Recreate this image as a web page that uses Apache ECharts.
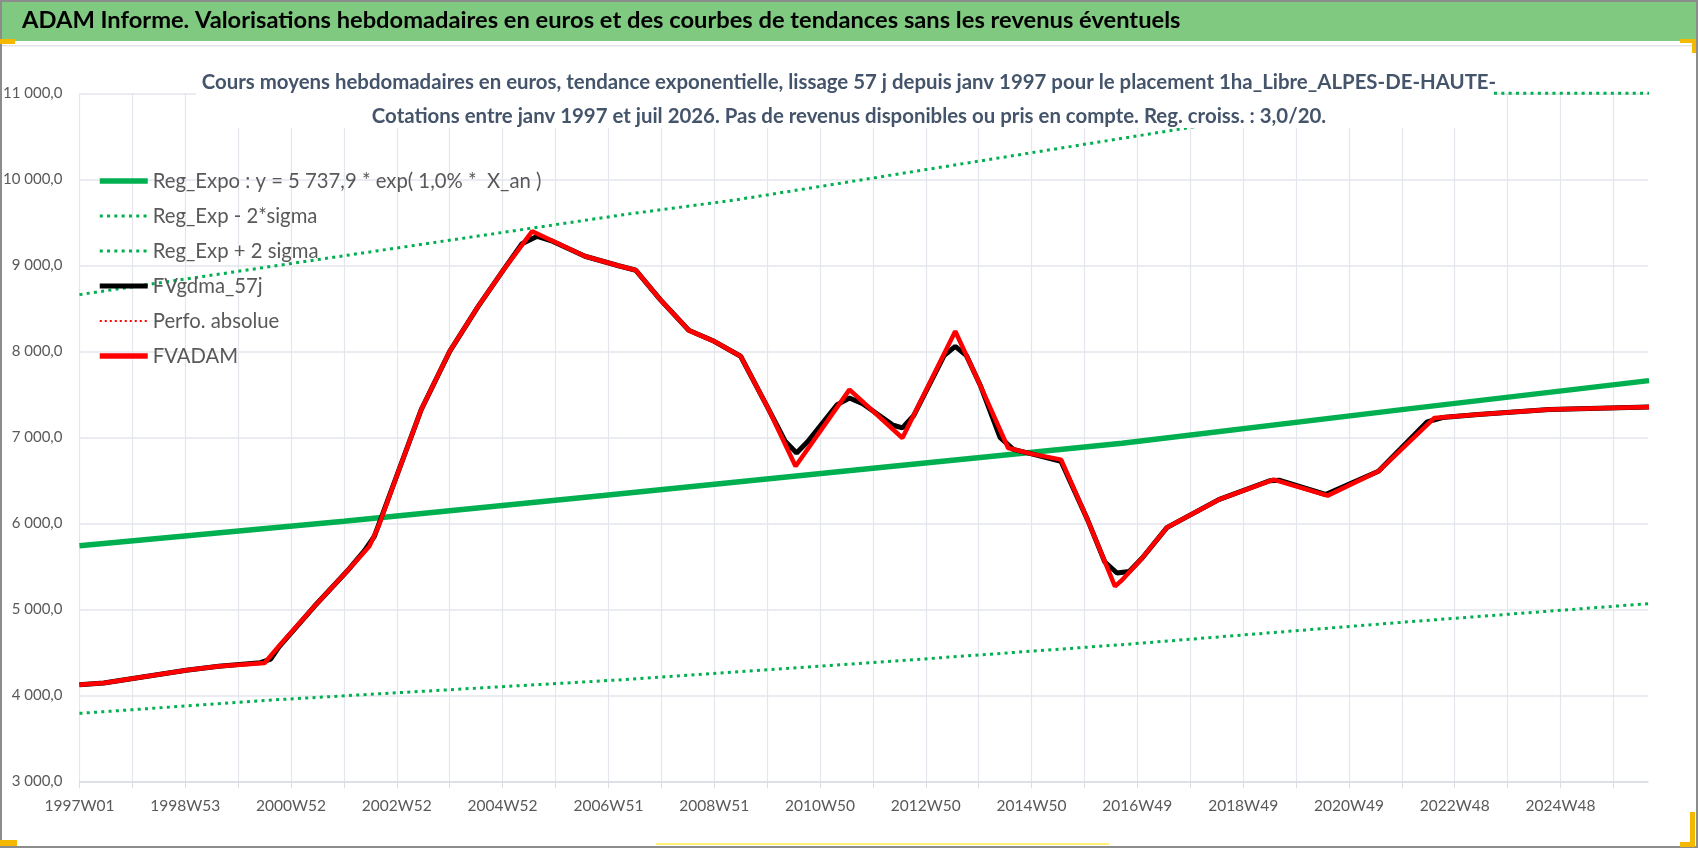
<!DOCTYPE html>
<html lang="fr">
<head>
    <meta charset="UTF-8">
    <title>ADAM Informe</title>
    <script src="https://cdn.jsdelivr.net/npm/echarts@6/dist/echarts.min.js"></script>
    <style>
        html, body { margin: 0; padding: 0; background: #fff; }
    </style>
</head>
<body>
<div id="chart" style="width:1698px;height:848px;"></div>
<script>
    // semaines ISO de 1997W01 a 2026W30 (annees a 53 semaines)
    var longYears = [1998, 2004, 2009, 2015, 2020, 2026];
    var weeks = [];
    for (var yr = 1997; yr <= 2026; yr++) {
        var n = longYears.indexOf(yr) >= 0 ? 53 : 52;
        for (var w = 1; w <= n; w++) {
            if (yr === 2026 && w > 30) break;
            weeks.push(yr + 'W' + (w < 10 ? '0' + w : w));
        }
    }

    var yTicks = { min: 3000, max: 11000, step: 1000 };

    // [indice semaine, valeur]
    var fvadam = [
        [0, 4124], [24, 4143], [105, 4291], [137, 4337], [182, 4376], [196, 4570],
        [231, 5035], [263, 5442], [285, 5733], [294, 5965], [313, 6585], [336, 7322],
        [364, 8000], [392, 8523], [417, 8950], [445, 9395], [497, 9105], [530, 8995],
        [547, 8942], [571, 8601], [599, 8244], [624, 8116], [650, 7942], [676, 7360],
        [704, 6663], [757, 7554], [809, 6992], [861, 8233], [886, 7593], [913, 6876],
        [935, 6810], [965, 6740], [991, 6043], [1018, 5267], [1025, 5340], [1045, 5600],
        [1069, 5950], [1120, 6275], [1174, 6508], [1227, 6322], [1277, 6605],
        [1332, 7225], [1375, 7264], [1445, 7322], [1543, 7353]
    ];
    var fvgdma = [
        [0, 4124], [24, 4143], [105, 4291], [137, 4337], [178, 4380], [188, 4420],
        [196, 4560], [231, 5035], [263, 5442], [280, 5680], [290, 5850], [313, 6585],
        [336, 7322], [364, 8000], [392, 8523], [417, 8950], [435, 9250], [450, 9337],
        [465, 9280], [497, 9105], [530, 8995], [547, 8942], [571, 8601], [599, 8244],
        [624, 8116], [650, 7942], [676, 7360], [694, 6950], [705, 6818], [716, 6950],
        [745, 7380], [757, 7457], [770, 7390], [800, 7140], [809, 7109], [820, 7250],
        [850, 7950], [861, 8058], [872, 7950], [886, 7593], [905, 7000], [918, 6860],
        [935, 6810], [965, 6720], [991, 6043], [1008, 5550], [1020, 5422], [1032, 5440],
        [1045, 5600], [1069, 5950], [1120, 6275], [1170, 6495], [1180, 6500],
        [1225, 6335], [1277, 6605], [1325, 7180], [1340, 7230], [1375, 7264],
        [1445, 7322], [1543, 7353]
    ];
    var regExpo = [
        [0, 5740], [260, 6023], [515, 6322], [780, 6640], [1025, 6930], [1300, 7322], [1543, 7659]
    ];
    var regMoins = [
        [0, 3790], [196, 3950], [535, 4182], [780, 4380], [1025, 4589], [1300, 4849], [1543, 5066]
    ];
    // au-dela de 11 000 la courbe est posee sur le bord du graphique
    var regPlus = [
        [0, 8659], [535, 9589], [645, 9760], [1117, 10650], [1249, 11000], [1543, 11000]
    ];

    var FONT = "Lato, 'Open Sans', sans-serif";
    var GRIS = '#595959';
    var VERT = '#00b050';
    var ROUGE = '#ff0000';

    var nomExpo = 'Reg_Expo : y = 5 737,9 * exp( 1,0% *  X_an )';

    function frNumber(v) {
        return String(Math.round(v)).replace(/\B(?=(\d{3})+(?!\d))/g, ' ') + ',0';
    }

    var chart = echarts.init(document.getElementById('chart'));
    var option = {
        backgroundColor: '#fff',
        animation: false,
        textStyle: { fontFamily: FONT },
        title: [
            {
                text: 'ADAM Informe. Valorisations hebdomadaires en euros et des courbes de tendances sans les revenus éventuels',
                left: 22, top: 8, padding: 0, z: 8,
                textStyle: { fontFamily: FONT, fontSize: 23.7, fontWeight: 'bold', color: '#000' }
            },
            {
                text: 'Cours moyens hebdomadaires en euros, tendance exponentielle, lissage 57 j depuis janv 1997 pour le placement 1ha_Libre_ALPES-DE-HAUTE-',
                left: 'center', top: 72, padding: 0, z: 8,
                textStyle: { fontFamily: FONT, fontSize: 20.4, fontWeight: 'bold', color: '#44546A' }
            },
            {
                text: 'Cotations entre janv 1997 et juil 2026. Pas de revenus disponibles ou pris en compte. Reg. croiss. : 3,0/20.',
                left: 'center', top: 106, padding: 0, z: 8,
                textStyle: { fontFamily: FONT, fontSize: 20.4, fontWeight: 'bold', color: '#44546A' }
            }
        ],
        graphic: [
            { type: 'rect', z: 0, shape: { x: 0, y: 0, width: 1698, height: 41 }, style: { fill: '#80c980' } },
            { type: 'rect', z: 0, shape: { x: 0, y: 45, width: 1698, height: 1.5 }, style: { fill: '#e4e4e4' } },
            { type: 'rect', z: 7, shape: { x: 196, y: 62, width: 1298, height: 66 }, style: { fill: '#fff' } },
            { type: 'rect', z: 9, shape: { x: 1, y: 1, width: 1696, height: 846 }, style: { fill: 'none', stroke: '#8c8c8c', lineWidth: 2 } },
            { type: 'rect', z: 9, shape: { x: 0, y: 39, width: 15, height: 5 }, style: { fill: '#f5b800' } },
            { type: 'rect', z: 9, shape: { x: 1680, y: 39, width: 16, height: 4 }, style: { fill: '#f5b800' } },
            { type: 'rect', z: 9, shape: { x: 1692, y: 39, width: 4, height: 14 }, style: { fill: '#f5b800' } },
            { type: 'rect', z: 9, shape: { x: 0, y: 840, width: 17, height: 6 }, style: { fill: '#f5b800' } },
            { type: 'rect', z: 9, shape: { x: 1690, y: 812, width: 5, height: 35 }, style: { fill: '#f5b800' } },
            { type: 'rect', z: 9, shape: { x: 1680, y: 842, width: 15, height: 5 }, style: { fill: '#f5b800' } },
            { type: 'rect', z: 9, shape: { x: 656, y: 843, width: 453, height: 2 }, style: { fill: '#fff176' } }
        ],
        legend: {
            orient: 'vertical',
            left: 97, top: 170,
            itemWidth: 48, itemHeight: 14, itemGap: 13,
            padding: 0,
            itemStyle: { opacity: 0 },
            textStyle: { fontFamily: FONT, fontSize: 20.3, color: GRIS, lineHeight: 22 },
            data: [
                { name: nomExpo, lineStyle: { width: 5.5, color: VERT } },
                { name: 'Reg_Exp - 2*sigma', lineStyle: { width: 3, color: VERT, type: [3, 4.3] } },
                { name: 'Reg_Exp + 2 sigma', lineStyle: { width: 3, color: VERT, type: [3, 4.3] } },
                { name: 'FVgdma_57j', lineStyle: { width: 5, color: '#000' } },
                { name: 'Perfo. absolue', lineStyle: { width: 2, color: ROUGE, type: [2, 3] } },
                { name: 'FVADAM', lineStyle: { width: 5.5, color: ROUGE } }
            ]
        },
        grid: { left: 74, right: 50, top: 93.3, bottom: 66.7, containLabel: false },
        xAxis: {
            type: 'category',
            data: weeks,
            boundaryGap: false,
            axisLine: { lineStyle: { color: '#d9dce3', width: 1.5 } },
            axisTick: { show: true, interval: 51, length: 7, lineStyle: { color: '#d9dce3' } },
            splitLine: { show: true, interval: 51, lineStyle: { color: '#e3e6ec', width: 1.2 } },
            axisLabel: { interval: 103, margin: 17, fontFamily: FONT, fontSize: 15.5, color: GRIS }
        },
        yAxis: {
            type: 'value',
            min: yTicks.min, max: yTicks.max, interval: yTicks.step,
            axisLine: { show: false },
            axisTick: { show: false },
            splitLine: { lineStyle: { color: '#e3e6ec', width: 1.5 } },
            axisLabel: { margin: 17, fontFamily: FONT, fontSize: 15, color: GRIS, formatter: frNumber }
        },
        series: [
            {
                name: nomExpo,
                type: 'line', data: regExpo, symbol: 'none', z: 3,
                lineStyle: { color: VERT, width: 5.5 }, itemStyle: { color: VERT }
            },
            {
                name: 'Reg_Exp - 2*sigma',
                type: 'line', data: regMoins, symbol: 'none', z: 3,
                lineStyle: { color: VERT, width: 3, type: [3, 4.3] }, itemStyle: { color: VERT }
            },
            {
                name: 'Reg_Exp + 2 sigma',
                type: 'line', data: regPlus, symbol: 'none', z: 3, clip: false,
                lineStyle: { color: VERT, width: 3, type: [3, 4.3] }, itemStyle: { color: VERT }
            },
            {
                name: 'FVgdma_57j',
                type: 'line', data: fvgdma, symbol: 'none', z: 4,
                lineStyle: { color: '#000', width: 5 }, itemStyle: { color: '#000' }
            },
            {
                name: 'Perfo. absolue',
                type: 'line', data: [], symbol: 'none', z: 4,
                lineStyle: { color: ROUGE, width: 2, type: [2, 3] }, itemStyle: { color: ROUGE }
            },
            {
                name: 'FVADAM',
                type: 'line', data: fvadam, symbol: 'none', z: 5,
                lineStyle: { color: ROUGE, width: 4.5 }, itemStyle: { color: ROUGE }
            }
        ]
    };
    chart.setOption(option);
</script>
</body>
</html>
